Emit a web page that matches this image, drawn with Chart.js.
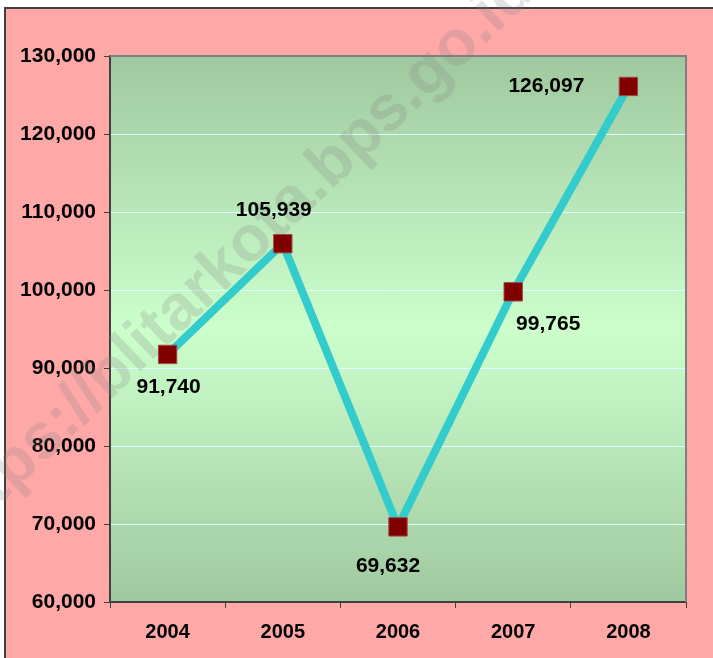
<!DOCTYPE html>
<html>
<head>
<meta charset="utf-8">
<script src="https://cdn.jsdelivr.net/npm/chart.js@4"></script>
<style>
    html, body { margin: 0; padding: 0; background: #ffffff; }
    #wrap { width: 713px; height: 658px; position: relative; }
</style>
</head>
<body>
<div id="wrap"><canvas id="chart"></canvas></div>
<script>
let years = ['2004', '2005', '2006', '2007', '2008'];
let values = [91740, 105939, 69632, 99765, 126097];
let yMin = 60000;
let yMax = 130000;
let yStep = 10000;

// label offsets from each point (dx, dy)
let labelOffsets = [[1, 33], [-9, -33], [-10, 39], [35, 32], [-82, 0]];

let fontFamily = "Arial, 'Liberation Sans', sans-serif";

const backgroundPlugin = {
    id: 'bg',
    beforeDraw(chart) {
        let ctx = chart.ctx;
        let a = chart.chartArea;
        ctx.save();
        ctx.fillStyle = '#ffffff';
        ctx.fillRect(0, 0, chart.width, chart.height);
        ctx.fillStyle = 'rgb(255,168,168)';
        ctx.fillRect(5, 8, chart.width, chart.height);
        ctx.strokeStyle = '#404040';
        ctx.lineWidth = 2;
        ctx.beginPath();
        ctx.moveTo(5, chart.height + 2);
        ctx.lineTo(5, 8);
        ctx.lineTo(chart.width + 2, 8);
        ctx.stroke();

        let g = ctx.createLinearGradient(0, a.top, 0, a.bottom);
        g.addColorStop(0, 'rgb(160,200,160)');
        g.addColorStop(0.5, 'rgb(204,255,204)');
        g.addColorStop(1, 'rgb(160,200,160)');
        ctx.fillStyle = g;
        ctx.fillRect(a.left, a.top, a.right - a.left, a.bottom - a.top);
        ctx.restore();
    },
    beforeDatasetsDraw(chart) {
        let ctx = chart.ctx;
        let a = chart.chartArea;
        ctx.save();
        // top & right border of the plot
        ctx.strokeStyle = '#808080';
        ctx.lineWidth = 2;
        ctx.beginPath();
        ctx.moveTo(a.left, a.top);
        ctx.lineTo(a.right, a.top);
        ctx.lineTo(a.right, a.bottom);
        ctx.stroke();

        // watermark
        ctx.translate(-46, 548);
        ctx.rotate(-43.5 * Math.PI / 180);
        ctx.font = 'bold 64px ' + fontFamily;
        ctx.fillStyle = 'rgba(128,128,128,0.22)';
        ctx.textBaseline = 'alphabetic';
        ctx.textAlign = 'left';
        ctx.fillText('https://blitarkota.bps.go.id', 0, 0);
        ctx.restore();
    }
};

const valueLabels = {
    id: 'valueLabels',
    afterDatasetsDraw(chart) {
        let ctx = chart.ctx;
        let meta = chart.getDatasetMeta(0);
        ctx.save();
        ctx.font = 'bold 21px ' + fontFamily;
        ctx.fillStyle = '#000000';
        ctx.textAlign = 'center';
        ctx.textBaseline = 'middle';
        meta.data.forEach((pt, i) => {
            let off = labelOffsets[i];
            ctx.fillText(values[i].toLocaleString('en-US'), pt.x + off[0], pt.y + off[1]);
        });
        ctx.restore();
    }
};

let ctx = document.getElementById('chart').getContext('2d');

let chart = new Chart(ctx, {
    type: 'line',
    data: {
        labels: years,
        datasets: [{
            data: values,
            borderColor: '#33CCCC',
            borderWidth: 8,
            tension: 0,
            fill: false,
            pointStyle: 'rect',
            pointRadius: 13,
            pointHoverRadius: 13,
            pointBackgroundColor: '#800000',
            pointBorderColor: '#A04848',
            pointBorderWidth: 1
        }]
    },
    options: {
        responsive: true,
        maintainAspectRatio: false,
        animation: false,
        events: [],
        layout: {
            padding: { left: 0, top: 56, right: 27, bottom: 0 }
        },
        plugins: {
            legend: { display: false },
            title: { display: false },
            tooltip: { enabled: false }
        },
        scales: {
            x: {
                offset: true,
                grid: {
                    offset: true,
                    drawOnChartArea: false,
                    drawTicks: true,
                    tickLength: 6,
                    tickColor: '#404040',
                    tickWidth: 1
                },
                border: { color: '#404040', width: 2 },
                ticks: {
                    color: '#000000',
                    padding: 12,
                    maxRotation: 0,
                    font: { family: fontFamily, size: 20, weight: 'bold' }
                },
                afterFit(scale) { scale.height = 56; }
            },
            y: {
                min: yMin,
                max: yMax,
                grid: {
                    color: 'rgb(220,255,255)',
                    lineWidth: 1,
                    tickLength: 6,
                    tickColor: '#404040',
                    tickWidth: 1
                },
                border: { color: '#404040', width: 2 },
                ticks: {
                    stepSize: yStep,
                    color: '#000000',
                    padding: 8,
                    font: { family: fontFamily, size: 21, weight: 'bold' },
                    callback: (v) => v.toLocaleString('en-US')
                },
                afterFit(scale) { scale.width = 110; }
            }
        }
    },
    plugins: [backgroundPlugin, valueLabels]
});
</script>
</body>
</html>
